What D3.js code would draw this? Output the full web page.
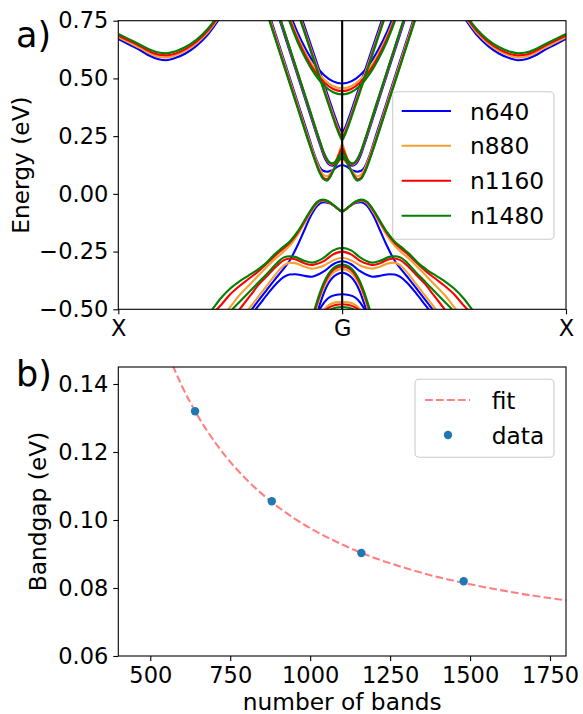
<!DOCTYPE html>
<html>
<head>
<meta charset="utf-8">
<script src="https://cdn.jsdelivr.net/npm/d3@7"></script>
<style>
  body { margin: 0; background: #fff; }
  text { font-family: "DejaVu Sans", sans-serif; fill: #000; }
</style>
</head>
<body>
<svg id="chart" width="583" height="714"></svg>
<script>
// ---------- panel a: band structure along X - G - X ----------
const seriesNames = ["n640", "n880", "n1160", "n1480"];
const pathLabels = ["X", "G", "X"];
const pathPositions = [-1, 0, 1];
const energyTicks = [-0.5, -0.25, 0, 0.25, 0.5, 0.75];

// k measured from G (0) towards X (1); the path is symmetric about G.
// Each band: one energy list per series (n640, n880, n1160, n1480).
const kSide = [0.50, 0.55, 0.60, 0.65, 0.70, 0.75, 0.785, 0.82, 0.86, 0.90, 0.95, 1.00];
const sideBand = [
  [0.84, 0.757, 0.69, 0.642, 0.608, 0.587, 0.579, 0.583, 0.598, 0.621, 0.646, 0.671],
  [0.85, 0.766, 0.70, 0.653, 0.619, 0.598, 0.590, 0.594, 0.608, 0.630, 0.654, 0.678],
  [0.855, 0.773, 0.707, 0.66, 0.627, 0.606, 0.600, 0.603, 0.617, 0.638, 0.662, 0.685],
  [0.86, 0.78, 0.715, 0.668, 0.636, 0.616, 0.609, 0.612, 0.625, 0.645, 0.669, 0.693]
];

const kC1 = [0, 0.02, 0.04, 0.055, 0.068, 0.085, 0.10, 0.12, 0.15, 0.20, 0.25, 0.30, 0.34];
const cond1 = [
  [0.125, 0.118, 0.105, 0.099, 0.096, 0.100, 0.115, 0.16, 0.25, 0.40, 0.55, 0.70, 0.82],
  [0.15, 0.135, 0.105, 0.085, 0.076, 0.084, 0.107, 0.155, 0.24, 0.39, 0.54, 0.69, 0.81],
  [0.155, 0.137, 0.10, 0.076, 0.063, 0.071, 0.095, 0.145, 0.23, 0.38, 0.53, 0.68, 0.80],
  [0.16, 0.14, 0.10, 0.070, 0.057, 0.065, 0.09, 0.14, 0.225, 0.375, 0.525, 0.675, 0.795]
];

const kC2 = [0, 0.015, 0.03, 0.045, 0.06, 0.08, 0.10, 0.15, 0.20, 0.25, 0.30];
const cond2 = [
  [0.165, 0.145, 0.128, 0.122, 0.128, 0.16, 0.215, 0.365, 0.515, 0.665, 0.815],
  [0.215, 0.175, 0.14, 0.127, 0.135, 0.17, 0.225, 0.375, 0.525, 0.675, 0.825],
  [0.198, 0.168, 0.138, 0.13, 0.137, 0.172, 0.228, 0.378, 0.528, 0.678, 0.828],
  [0.18, 0.16, 0.14, 0.132, 0.14, 0.175, 0.23, 0.38, 0.53, 0.68, 0.83]
];

const kC3 = [0, 0.01, 0.03, 0.06, 0.10, 0.14, 0.18, 0.22];
const cond3 = [
  [0.265, 0.28, 0.33, 0.415, 0.53, 0.645, 0.76, 0.875],
  [0.25, 0.266, 0.315, 0.40, 0.515, 0.63, 0.745, 0.86],
  [0.24, 0.257, 0.306, 0.391, 0.506, 0.622, 0.738, 0.854],
  [0.233, 0.25, 0.30, 0.385, 0.50, 0.617, 0.733, 0.85]
];

const kC4 = [0, 0.04, 0.08, 0.12, 0.16, 0.20, 0.24, 0.28];
const cond4 = [
  [0.478, 0.487, 0.514, 0.559, 0.622, 0.70, 0.80, 0.92],
  [0.457, 0.466, 0.494, 0.54, 0.603, 0.682, 0.78, 0.90],
  [0.445, 0.454, 0.482, 0.528, 0.592, 0.671, 0.77, 0.89],
  [0.431, 0.44, 0.468, 0.515, 0.58, 0.66, 0.76, 0.88]
];

const kV1 = [0, 0.03, 0.06, 0.085, 0.11, 0.14, 0.17, 0.20, 0.235, 0.27, 0.30, 0.34, 0.38, 0.42, 0.46, 0.50, 0.54, 0.58, 0.62];
const val1 = [
  [-0.076, -0.056, -0.039, -0.036, -0.05, -0.095, -0.16, -0.225, -0.29, -0.335, -0.37, -0.42, -0.47, -0.52, -0.56, -0.60, -0.64, -0.68, -0.72],
  [-0.076, -0.057, -0.037, -0.030, -0.040, -0.08, -0.13, -0.18, -0.225, -0.257, -0.282, -0.32, -0.36, -0.40, -0.44, -0.49, -0.54, -0.58, -0.62],
  [-0.076, -0.056, -0.035, -0.027, -0.036, -0.073, -0.123, -0.17, -0.213, -0.243, -0.268, -0.305, -0.34, -0.37, -0.40, -0.435, -0.48, -0.52, -0.56],
  [-0.076, -0.055, -0.033, -0.025, -0.034, -0.07, -0.118, -0.165, -0.207, -0.235, -0.26, -0.30, -0.33, -0.355, -0.38, -0.41, -0.45, -0.50, -0.55]
];

const kV2 = [0, 0.04, 0.08, 0.12, 0.135, 0.17, 0.21, 0.235, 0.26, 0.29, 0.33, 0.37, 0.41, 0.45, 0.49, 0.53];
const val2 = [
  [-0.292, -0.305, -0.335, -0.355, -0.359, -0.355, -0.348, -0.349, -0.36, -0.385, -0.43, -0.48, -0.53, -0.58, -0.63, -0.68],
  [-0.277, -0.288, -0.31, -0.322, -0.324, -0.315, -0.300, -0.298, -0.31, -0.34, -0.39, -0.44, -0.49, -0.54, -0.59, -0.64],
  [-0.250, -0.262, -0.29, -0.305, -0.308, -0.30, -0.283, -0.280, -0.287, -0.31, -0.35, -0.39, -0.44, -0.49, -0.54, -0.59],
  [-0.234, -0.245, -0.275, -0.295, -0.298, -0.29, -0.273, -0.270, -0.275, -0.298, -0.34, -0.38, -0.42, -0.46, -0.50, -0.55]
];

const kV3 = [0, 0.02, 0.04, 0.06, 0.08, 0.10, 0.12, 0.14];
const val3 = [
  [-0.342, -0.347, -0.36, -0.385, -0.425, -0.48, -0.545, -0.61],
  [-0.325, -0.33, -0.342, -0.365, -0.40, -0.45, -0.51, -0.575],
  [-0.314, -0.318, -0.33, -0.353, -0.39, -0.44, -0.50, -0.565],
  [-0.306, -0.31, -0.322, -0.345, -0.38, -0.43, -0.49, -0.555]
];

const kV4 = [0, 0.03, 0.06, 0.08, 0.10, 0.12];
const val4 = [
  [-0.435, -0.438, -0.45, -0.47, -0.50, -0.535],
  [-0.467, -0.47, -0.482, -0.50, -0.525, -0.56],
  [-0.478, -0.481, -0.493, -0.51, -0.54, -0.575],
  [-0.49, -0.493, -0.505, -0.525, -0.555, -0.59]
];

// ---------- panel b: bandgap convergence ----------
const bandCounts = [640, 880, 1160, 1480];
const bandgaps = [0.132, 0.1055, 0.0903, 0.082];
const fitCounts = [570, 600, 650, 700, 750, 800, 900, 1000, 1100, 1200, 1300, 1400, 1500, 1600, 1700, 1800];
const fitGaps = [0.1455, 0.1392, 0.1304, 0.1232, 0.1171, 0.1120, 0.1038, 0.0976, 0.0928, 0.0889, 0.0858, 0.0832, 0.0811, 0.0793, 0.0777, 0.0764];
const countTicks = [500, 750, 1000, 1250, 1500, 1750];
const gapTicks = [0.06, 0.08, 0.10, 0.12, 0.14];

// ---------- styling ----------
const seriesColors = ["#0000ff", "#f5a033", "#ff0000", "#008000"];
const TICK_FONT = 22.5;
const LABEL_FONT = 23.3;
const lineW = 2.1;

const svg = d3.select("#chart");

const A = { left: 118.3, right: 566, top: 20.7, bottom: 309.3 };
const B = { left: 118.3, right: 566, top: 367, bottom: 656 };

const xA = d3.scaleLinear().domain([-1, 1]).range([A.left, A.right]);
const yA = d3.scaleLinear().domain([-0.5, 0.75]).range([A.bottom, A.top]);
const xB = d3.scaleLinear().domain([400, 1800]).range([B.left, B.right]);
const yB = d3.scaleLinear().domain([0.06, 0.145]).range([B.bottom, B.top]);

const defs = svg.append("defs");
defs.append("clipPath").attr("id", "clipA").append("rect")
  .attr("x", A.left).attr("y", A.top).attr("width", A.right - A.left).attr("height", A.bottom - A.top);
defs.append("clipPath").attr("id", "clipB").append("rect")
  .attr("x", B.left).attr("y", B.top).attr("width", B.right - B.left).attr("height", B.bottom - B.top);

const lineA = d3.line().x(d => xA(d[0])).y(d => yA(d[1])).curve(d3.curveMonotoneX);

// bands that pass through G are drawn as one curve from -k to +k
const centralBands = [[kC1, cond1], [kC2, cond2], [kC3, cond3], [kC4, cond4],
                      [kV1, val1], [kV2, val2], [kV3, val3], [kV4, val4]];

const gA = svg.append("g").attr("clip-path", "url(#clipA)");
seriesNames.forEach((name, si) => {
  const g = gA.append("g").attr("class", "series-" + name)
    .attr("fill", "none").attr("stroke", seriesColors[si])
    .attr("stroke-width", lineW).attr("stroke-linejoin", "round");
  centralBands.forEach(([ks, es]) => {
    const E = es[si];
    const left = ks.map((k, i) => [-k, E[i]]).reverse();
    const right = ks.slice(1).map((k, i) => [k, E[i + 1]]);
    g.append("path").attr("d", lineA(left.concat(right)));
  });
  const Es = sideBand[si];
  g.append("path").attr("d", lineA(kSide.map((k, i) => [k, Es[i]])));
  g.append("path").attr("d", lineA(kSide.map((k, i) => [-k, Es[i]]).reverse()));
});

// vertical line at G
svg.append("line")
  .attr("x1", xA(0)).attr("x2", xA(0)).attr("y1", A.top).attr("y2", A.bottom)
  .attr("stroke", "#000").attr("stroke-width", 2.1);

function styleAxis(g) {
  g.select(".domain").remove();
  g.selectAll(".tick line").attr("stroke", "#000").attr("stroke-width", 1.1);
  g.selectAll(".tick text").attr("font-size", TICK_FONT).attr("font-family", "DejaVu Sans").attr("fill", "#000");
}
const fmt2 = d => (d < 0 ? "\u2212" : "") + Math.abs(d).toFixed(2);

svg.append("g").attr("transform", `translate(${A.left},0)`)
  .call(d3.axisLeft(yA).tickValues(energyTicks).tickFormat(fmt2).tickSize(5).tickPadding(5))
  .call(styleAxis);
svg.append("g").attr("transform", `translate(0,${A.bottom})`)
  .call(d3.axisBottom(xA).tickValues(pathPositions).tickFormat((d, i) => pathLabels[i]).tickSize(5).tickPadding(6))
  .call(styleAxis);

svg.append("rect").attr("x", A.left).attr("y", A.top)
  .attr("width", A.right - A.left).attr("height", A.bottom - A.top)
  .attr("fill", "none").attr("stroke", "#000").attr("stroke-width", 1.1);

svg.append("text").attr("transform", `translate(20,${(A.top + A.bottom) / 2}) rotate(-90)`)
  .attr("text-anchor", "middle").attr("dominant-baseline", "central")
  .attr("font-size", LABEL_FONT).text("Energy (eV)");
svg.append("text").attr("x", 16).attr("y", 47).attr("font-size", 35).text("a)");

// legend a
const legA = svg.append("g");
legA.append("rect").attr("x", 392.7).attr("y", 91.7).attr("width", 161.3).attr("height", 147.6)
  .attr("rx", 4).attr("fill", "#fff").attr("fill-opacity", 0.8)
  .attr("stroke", "#cccccc").attr("stroke-width", 1.1);
const legRows = [111, 145.7, 180.7, 215.7];
seriesNames.forEach((name, i) => {
  legA.append("line").attr("x1", 401.7).attr("x2", 451).attr("y1", legRows[i]).attr("y2", legRows[i])
    .attr("stroke", seriesColors[i]).attr("stroke-width", lineW);
  legA.append("text").attr("x", 470).attr("y", legRows[i]).attr("dominant-baseline", "central")
    .attr("font-size", LABEL_FONT).text(name);
});

// ---------- panel b drawing ----------
const lineB = d3.line().x(d => xB(d[0])).y(d => yB(d[1])).curve(d3.curveMonotoneX);
svg.append("g").attr("clip-path", "url(#clipB)").append("path")
  .attr("d", lineB(fitCounts.map((c, i) => [c, fitGaps[i]])))
  .attr("fill", "none").attr("stroke", "#ff8080").attr("stroke-width", lineW)
  .attr("stroke-dasharray", "7.7,3.3");

svg.append("g").selectAll("circle").data(bandCounts).join("circle")
  .attr("cx", d => xB(d)).attr("cy", (d, i) => yB(bandgaps[i])).attr("r", 4.2)
  .attr("fill", "#1f77b4");

svg.append("g").attr("transform", `translate(${B.left},0)`)
  .call(d3.axisLeft(yB).tickValues(gapTicks).tickFormat(d => d.toFixed(2)).tickSize(5).tickPadding(5))
  .call(styleAxis);
svg.append("g").attr("transform", `translate(0,${B.bottom})`)
  .call(d3.axisBottom(xB).tickValues(countTicks).tickFormat(d3.format("d")).tickSize(5).tickPadding(6))
  .call(styleAxis);

svg.append("rect").attr("x", B.left).attr("y", B.top)
  .attr("width", B.right - B.left).attr("height", B.bottom - B.top)
  .attr("fill", "none").attr("stroke", "#000").attr("stroke-width", 1.1);

svg.append("text").attr("transform", `translate(37,${(B.top + B.bottom) / 2}) rotate(-90)`)
  .attr("text-anchor", "middle").attr("dominant-baseline", "central")
  .attr("font-size", LABEL_FONT).text("Bandgap (eV)");
svg.append("text").attr("x", (B.left + B.right) / 2).attr("y", 710)
  .attr("text-anchor", "middle").attr("font-size", LABEL_FONT).text("number of bands");
svg.append("text").attr("x", 16).attr("y", 386).attr("font-size", 35).text("b)");

// legend b
const legB = svg.append("g");
legB.append("rect").attr("x", 415).attr("y", 379.3).attr("width", 139).attr("height", 78)
  .attr("rx", 4).attr("fill", "#fff").attr("fill-opacity", 0.8)
  .attr("stroke", "#cccccc").attr("stroke-width", 1.1);
legB.append("line").attr("x1", 425).attr("x2", 470).attr("y1", 400).attr("y2", 400)
  .attr("stroke", "#ff8080").attr("stroke-width", lineW).attr("stroke-dasharray", "7.7,3.3");
legB.append("circle").attr("cx", 448).attr("cy", 435).attr("r", 4.2).attr("fill", "#1f77b4");
legB.append("text").attr("x", 491.7).attr("y", 400).attr("dominant-baseline", "central")
  .attr("font-size", LABEL_FONT).text("fit");
legB.append("text").attr("x", 491.7).attr("y", 435).attr("dominant-baseline", "central")
  .attr("font-size", LABEL_FONT).text("data");
</script>
</body>
</html>
